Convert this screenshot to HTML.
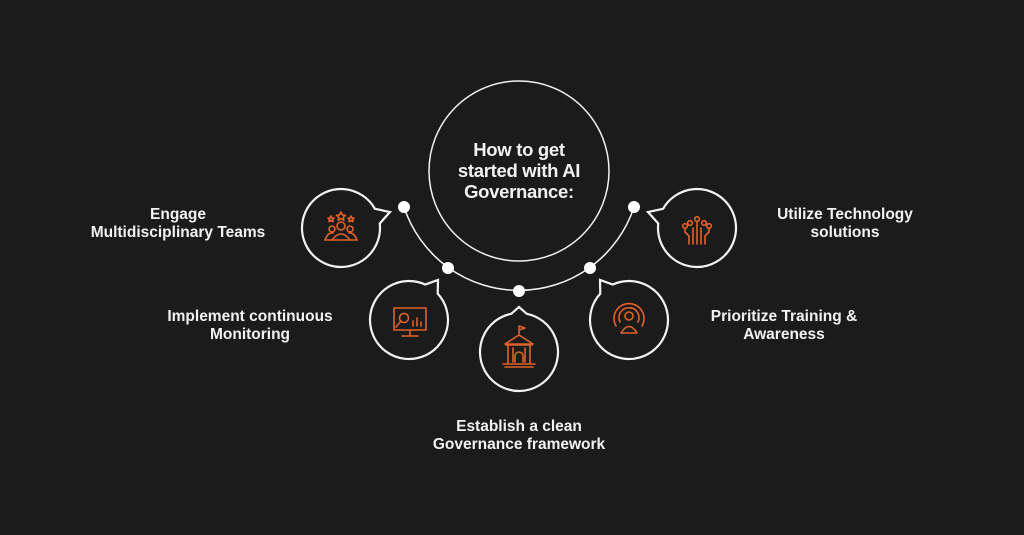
<!DOCTYPE html>
<html><head><meta charset="utf-8"><style>
html,body{margin:0;padding:0;background:#1b1b1b;}
body{width:1024px;height:535px;overflow:hidden;position:relative;font-family:"Liberation Sans",sans-serif;}
.t{position:absolute;color:#f2f2f2;font-weight:bold;font-size:15.5px;line-height:18px;text-align:center;white-space:nowrap;transform:translateX(-50%);}
</style></head><body>
<svg id="s" width="1024" height="535" style="position:absolute;left:0;top:0">
<circle cx="519" cy="171" r="90" fill="none" stroke="#f2f2f2" stroke-width="1.5"/>
<path d="M404 207 A121 121 0 0 0 634 207" fill="none" stroke="#f2f2f2" stroke-width="1.5"/>
<g fill="#fff"><circle cx="404" cy="207" r="6"/><circle cx="448" cy="268" r="6"/><circle cx="519" cy="291" r="6"/><circle cx="590" cy="268" r="6"/><circle cx="634" cy="207" r="6"/></g>
<g id="b" fill="none" stroke="#f2f2f2" stroke-width="2.2" stroke-linejoin="miter"></g>
<g fill="none" stroke="#e0622a" stroke-width="1.6" stroke-linecap="round" stroke-linejoin="round">
<circle cx="341" cy="226" r="4"/><path d="M332 240 q9 -12 18 0"/>
<circle cx="332" cy="229" r="3"/><path d="M325 240 q3 -8 8 -7"/>
<circle cx="350" cy="229" r="3"/><path d="M357 240 q-3 -8 -8 -7"/>
<path d="M325 240 h32"/>
<path d="M341 212 l1.5 3 3 .3 -2.3 2 .7 3 -2.9 -1.6 -2.9 1.6 .7 -3 -2.3 -2 3 -.3z"/>
<path d="M331 216 l1 2 2 .2 -1.5 1.4 .5 2 -2 -1 -2 1 .5 -2 -1.5 -1.4 2 -.2z"/>
<path d="M351 216 l1 2 2 .2 -1.5 1.4 .5 2 -2 -1 -2 1 .5 -2 -1.5 -1.4 2 -.2z"/>
<rect x="394" y="308" width="32" height="22"/><path d="M410 330 v5 M402 336 h16"/>
<circle cx="404" cy="318" r="4.5"/><path d="M401 321 l-5 6"/>
<path d="M413 326 v-5 M417 326 v-8 M421 326 v-4"/>
<path d="M519 334 v-8 l6 2 -6 2"/>
<path d="M505 344 l14 -9 14 9 z"/><path d="M506 345 h26 M508 345 v18 M530 345 v18 M513 348 v14 M525 348 v14 M503 364 h32 M505 367 h28"/>
<path d="M515 362 v-6 a4 4 0 0 1 8 0 v6"/>
<circle cx="629" cy="316" r="4"/><path d="M621 333 q8 -13 16 0 z"/>
<path d="M620 322 a10 10 0 1 1 18 0"/><path d="M616 326 a15 15 0 1 1 26 0"/>
<path d="M693 244 v-16 M697 244 v-22 M701 244 v-16 M689 244 v-8 l-4 -4 v-4 M705 244 v-8 l4 -4 v-4"/>
<circle cx="697" cy="219" r="2.3"/><circle cx="690" cy="223" r="2.3"/><circle cx="704" cy="223" r="2.3"/><circle cx="685" cy="226" r="2.3"/><circle cx="709" cy="226" r="2.3"/>
</g>
<g font-family="Liberation Sans, sans-serif" font-weight="bold" font-size="18.5" fill="#f2f2f2" text-anchor="middle" letter-spacing="-0.3">
<text x="519" y="156">How to get</text><text x="519" y="177">started with AI</text><text x="519" y="198">Governance:</text>
</g>
</svg>
<div class="t" style="left:178px;top:206px">Engage<br>Multidisciplinary Teams</div>
<div class="t" style="left:250px;top:308px">Implement continuous<br>Monitoring</div>
<div class="t" style="left:519px;top:418px">Establish a clean<br>Governance framework</div>
<div class="t" style="left:784px;top:308px">Prioritize Training &amp;<br>Awareness</div>
<div class="t" style="left:845px;top:206px">Utilize Technology<br>solutions</div>
<script>
var B=[[341,228,39,49,-16],[409,320,39,29,-40],[519,352,39,0,-45],[629,320,39,-29,-40],[697,228,39,-49,-16]];
var g=document.getElementById('b'),h='';
B.forEach(function(b){var cx=b[0],cy=b[1],r=b[2],tx=cx+b[3],ty=cy+b[4];
var a=Math.atan2(b[4],b[3]),d=0.2;
var x1=cx+r*Math.cos(a-d),y1=cy+r*Math.sin(a-d),x2=cx+r*Math.cos(a+d),y2=cy+r*Math.sin(a+d);
h+='<path d="M'+x2+' '+y2+' A'+r+' '+r+' 0 1 1 '+x1+' '+y1+' L'+tx+' '+ty+' Z"/>';});
g.innerHTML=h;
</script>
</body></html>
